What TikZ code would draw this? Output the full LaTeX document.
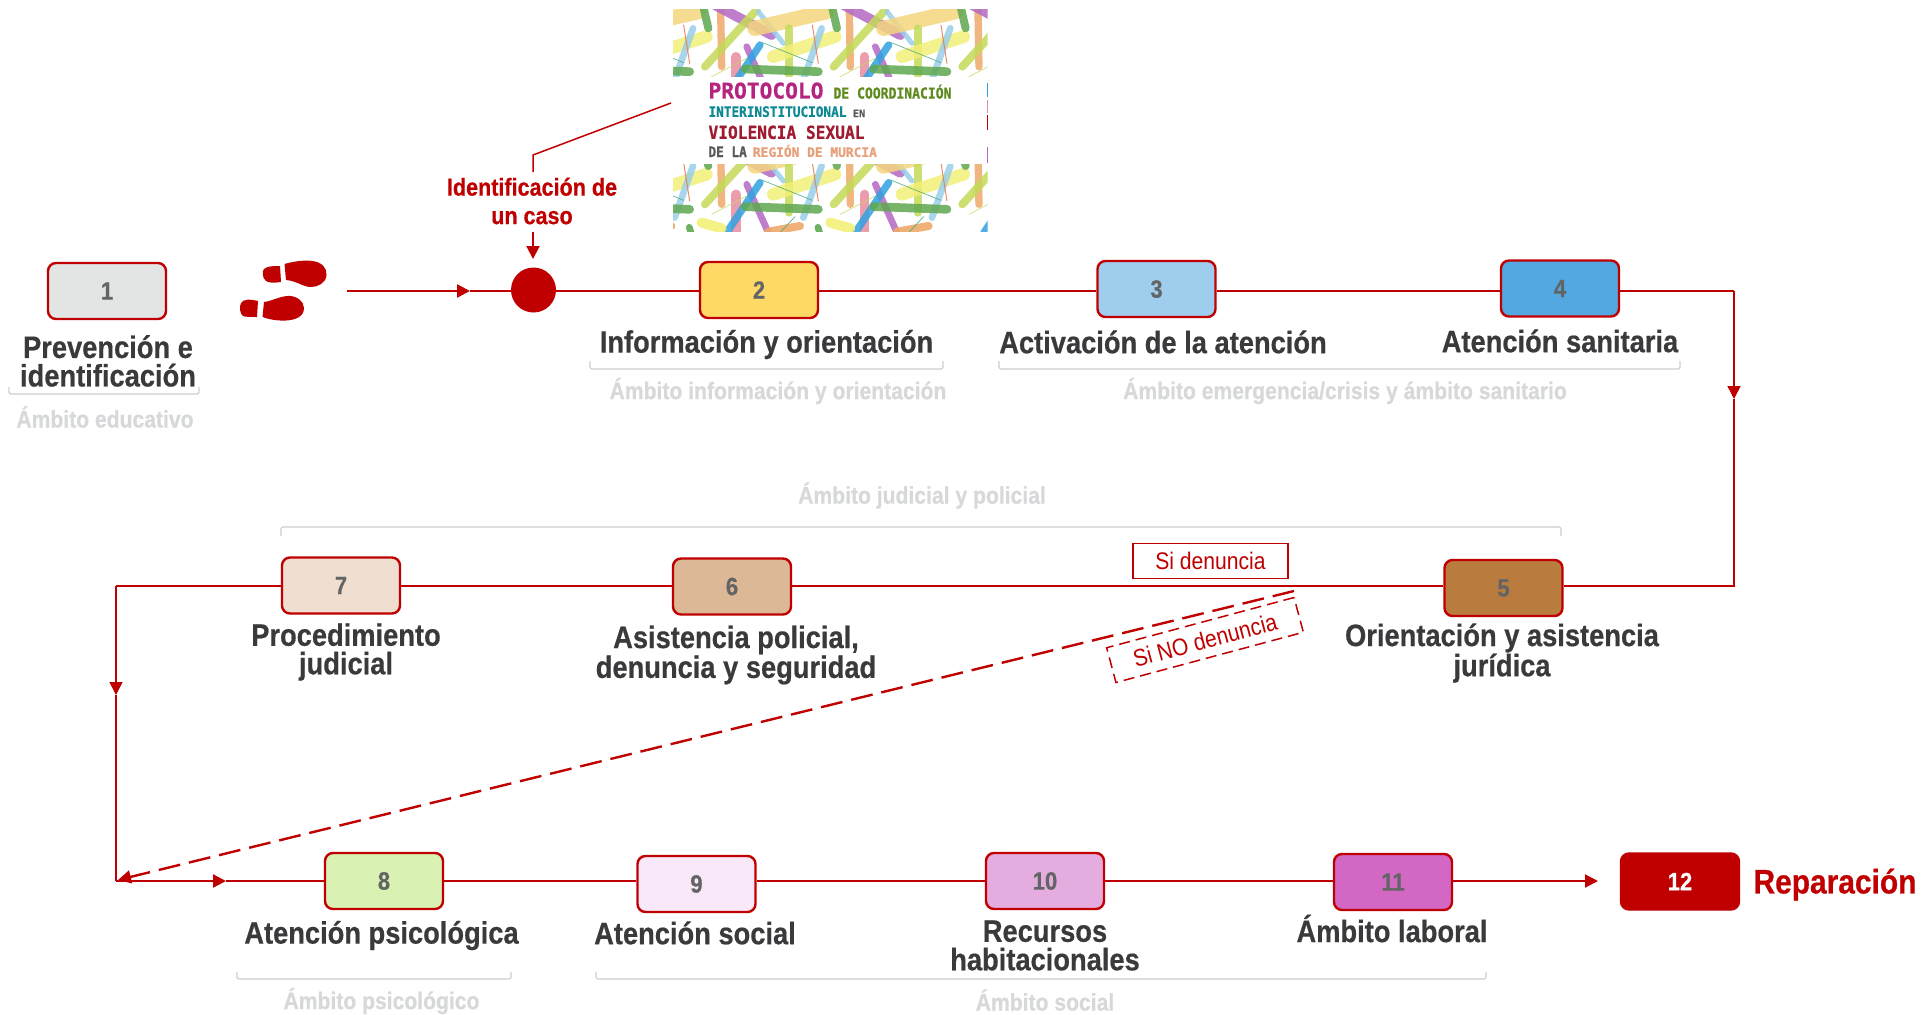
\documentclass[tikz,border=0pt]{standalone}
\usepackage{fontspec}
\usepackage{graphicx}
\setmainfont[FakeStretch=0.88,BoldFeatures={FakeBold=0.5}]{Liberation Sans}
\newfontfamily\bannerfont[BoldFeatures={FakeBold=0.8}]{DejaVu Sans Mono}
\usetikzlibrary{arrows.meta}
\definecolor{rj}{HTML}{C00000}
\definecolor{tx}{HTML}{3A3A3C}
\definecolor{numc}{HTML}{636466}
\definecolor{amb}{HTML}{D7D8DA}
\definecolor{brk}{HTML}{CFCFD1}
\definecolor{cOrange}{HTML}{EFA96A}
\definecolor{cGreen}{HTML}{5FA850}
\definecolor{cPurple}{HTML}{B468C4}
\definecolor{cLime}{HTML}{C4DA58}
\definecolor{cLblue}{HTML}{9ACFEA}
\definecolor{cYor}{HTML}{F5D67E}
\definecolor{cYel}{HTML}{F3F078}
\definecolor{cSalm}{HTML}{E87850}
\definecolor{cPink}{HTML}{E88CA0}
\definecolor{cBlue}{HTML}{2FA2E0}
\definecolor{cThin}{HTML}{40A878}
\definecolor{bMag}{HTML}{B5257F}
\definecolor{bOli}{HTML}{5E8A1E}
\definecolor{bTeal}{HTML}{0E8A94}
\definecolor{bGray}{HTML}{58595B}
\definecolor{bRed}{HTML}{9E1B32}
\definecolor{bSal}{HTML}{E8A07A}
\tikzset{
  numbox/.style={draw=rj,line width=2.4pt,rounded corners=8pt,minimum width=118pt,minimum height=56pt,inner sep=0pt,
    font=\fontsize{25}{25}\selectfont\bfseries,text=numc},
  lab/.style={font=\fontsize{31}{28.5}\selectfont\bfseries,text=tx,align=center,inner sep=0pt},
  ambito/.style={font=\fontsize{24}{24}\selectfont\bfseries,text=amb,align=center,inner sep=0pt},
  redlab/.style={font=\fontsize{24.5}{28.5}\selectfont\bfseries,text=rj,align=center,inner sep=0pt},
  flow/.style={draw=rj,line width=1.5pt},
  flowb/.style={draw=rj,line width=2.4pt},
  tip/.style={-{Triangle[length=13pt,width=13pt]}},
  brack/.style={draw=brk,line width=1.3pt,rounded corners=1.5pt},
  note/.style={font=\fontsize{24}{24}\selectfont,text=rj,inner sep=0pt},
}
\newcommand{\bt}[6]{\node[anchor=south west,inner sep=0pt,text=#5] at (#1,#2) {\resizebox{#3pt}{#4pt}{\bannerfont\bfseries #6}};}
\newcommand{\tilesticks}{%
  \foreach \dx in {-386,0,386,772} {
    \foreach \xa/\ya/\xb/\yb/\w/\c in {
      242/30/245/200/22/cOrange,
      190/20/205/85/24/cGreen,
      225/15/395/105/30/cPurple,
      350/30/195/200/24/cLime,
      355/35/430/130/15/cLblue,
      345/85/560/35/46/cYor,
      447/85/447/225/24/cLime,
      400/170/585/110/38/cYel,
      545/85/490/240/20/cLblue,
      517/75/535/190/3/cSalm,
      288/170/288/290/28/cPink,
      320/140/385/285/20/cPurple,
      360/135/260/285/22/cBlue,
      315/207/535/215/26/cGreen,
      368/128/517/188/2/cThin,
      215/230/320/175/2/cLime} {
      \draw[draw=\c,line width=\w*0.3333pt,line cap=round,opacity=.85] (\xa+\dx,\ya)--(\xb+\dx,\yb);
    }
  }
}
\begin{document}
\begin{tikzpicture}[x=1pt,y=-1pt]
\useasboundingbox (0,0) rectangle (1923,1015);
\fill[white] (0,0) rectangle (1923,1015);

% banner
\node[minimum width=315pt,minimum height=223pt,inner sep=0pt] (banner) at (830.5,120.5) {};
\begin{scope}[shift={(640,0)},x=.3333pt,y=-.3333pt]
  \begin{scope}
    \clip (99,27) rectangle (1043,230);
    \tilesticks
  \end{scope}
  \begin{scope}
    \clip (99,495) rectangle (1043,695);
    \begin{scope}[shift={(0,413)}]
      \tilesticks
    \end{scope}
    \foreach \dx in {-386,0,386} {
      \foreach \xa/\ya/\xb/\yb/\w/\c in {
        185/668/245/685/30/cYel,
        385/695/480/678/24/cOrange,
        148/682/155/705/20/cGreen,
        420/698/465/650/2/cThin} {
        \draw[draw=\c,line width=\w*0.3333pt,line cap=round,opacity=.9] (\xa+\dx,\ya)--(\xb+\dx,\yb);
      }
    }
  \end{scope}
  \foreach \ya/\yb/\c in {250/290/cBlue,300/340/cPink,345/390/rj,440/490/cPurple}
    \draw[draw=\c,line width=.8pt] (1042,\ya)--(1042,\yb);
\end{scope}
\bt{708.3}{99}{115}{16}{bMag}{PROTOCOLO}
\bt{833.3}{99}{118}{14}{bOli}{DE COORDINACIÓN}
\bt{708.3}{117.3}{138}{10.7}{bTeal}{INTERINSTITUCIONAL}
\bt{852.7}{117.3}{12.3}{7.5}{bGray}{EN}
\bt{708.3}{139.3}{156}{13.3}{bRed}{VIOLENCIA SEXUAL}
\bt{708.3}{157.3}{38.3}{10.7}{bGray}{DE LA}
\bt{752.7}{157.3}{124}{12}{bSal}{REGIÓN DE MURCIA}

% numbered boxes
\node[numbox,fill={rgb,255:red,227;green,228;blue,228}] (b1) at (107,291) {1};
\node[numbox,fill={rgb,255:red,255;green,217;blue,102}] (b2) at (759,290) {2};
\node[numbox,fill={rgb,255:red,159;green,205;blue,238}] (b3) at (1156.5,289) {3};
\node[numbox,fill={rgb,255:red,84;green,168;blue,226}] (b4) at (1560,288.5) {4};
\node[numbox,fill={rgb,255:red,185;green,124;blue,62}] (b5) at (1503.5,588) {5};
\node[numbox,fill={rgb,255:red,221;green,184;blue,150}] (b6) at (732,586.5) {6};
\node[numbox,fill={rgb,255:red,240;green,223;blue,208}] (b7) at (341,585.5) {7};
\node[numbox,fill={rgb,255:red,217;green,242;blue,180}] (b8) at (384,881) {8};
\node[numbox,fill={rgb,255:red,248;green,232;blue,248}] (b9) at (696.5,884) {9};
\node[numbox,fill={rgb,255:red,229;green,172;blue,223}] (b10) at (1045,881) {10};
\node[numbox,fill={rgb,255:red,210;green,104;blue,196}] (b11) at (1393,882) {11};
\node[numbox,fill=rj,text=white] (b12) at (1680,881.5) {12};

% circle
\node[circle,fill=rj,minimum size=45pt,inner sep=0pt] (dot) at (533.5,290) {};

% titles
\node[lab] (t1) at (108,361) {Prevención e\\identificación};
\node[lab] (t2) at (766.5,344.5) {Información y orientación};
\node[lab] (t3) at (1163,342) {Activación de la atención};
\node[lab] (t4) at (1560,341) {Atención sanitaria};
\node[lab] (t5) at (1502,653) {Orientación y asistencia\\jurídica};
\node[lab] (t6) at (736,655) {Asistencia policial,\\denuncia y seguridad};
\node[lab] (t7) at (346,652) {Procedimiento\\judicial};
\node[lab] (t8) at (381.5,935.5) {Atención psicológica};
\node[lab] (t9) at (695,933) {Atención social};
\node[lab] (t10) at (1045,945.5) {Recursos\\habitacionales};
\node[lab] (t11) at (1392,928.5) {Ámbito laboral};
\node[font=\fontsize{34}{34}\selectfont\bfseries,text=rj,inner sep=0pt] (t12) at (1835,884.5) {Reparación};
\node[redlab] (caso) at (532,201) {Identificación de\\un caso};

% ambitos
\node[ambito] (a1) at (105,417) {Ámbito educativo};
\node[ambito] (a2) at (778,391) {Ámbito información y orientación};
\node[ambito] (a3) at (1345,391) {Ámbito emergencia/crisis y ámbito sanitario};
\node[ambito] (a4) at (922,495.5) {Ámbito judicial y policial};
\node[ambito] (a5) at (381.5,1001) {Ámbito psicológico};
\node[ambito] (a6) at (1045,1000) {Ámbito social};

% brackets
\draw[brack] (9,387)--(9,394)--(199,394)--(199,387);
\draw[brack] (590,361)--(590,369)--(943,369)--(943,361);
\draw[brack] (999,361)--(999,369)--(1680,369)--(1680,361);
\draw[brack] (281,536)--(281,527)--(1561,527)--(1561,536);
\draw[brack] (237,972)--(237,979)--(511,979)--(511,972);
\draw[brack] (596,972)--(596,979)--(1486,979)--(1486,972);

% notes
\node[note,draw=rj,line width=1.5pt,minimum width=155pt,minimum height=35pt] (si) at (1210.5,561) {Si denuncia};
\node[note,draw=rj,line width=1.5pt,dashed,dash pattern=on 11pt off 6pt,minimum width=194pt,minimum height=36pt,rotate=15] (sino) at (1205,640) {Si NO denuncia};

% free ends
\coordinate (stepstart) at (347,291);
\coordinate (stepthick) at (360,291);
\coordinate (steptip) at (470,291);
\coordinate (linkstart) at (671,103);
\coordinate (linkbend) at (533,155);
\coordinate (linkend) at (533,172);
\coordinate (casostart) at (533,232);
\coordinate (casotip) at (533,259);
\coordinate (r1) at (1734,291);
\coordinate (r1tip) at (1734,399);
\coordinate (r2) at (1734,586);
\coordinate (l1) at (116,586);
\coordinate (l1tip) at (116,695);
\coordinate (l2) at (116,881);
\coordinate (l2tip) at (226,881);
\coordinate (endtip) at (1598,881);
\coordinate (dstart) at (1294,591);
\coordinate (dend) at (118,880);

% connectors
\draw[flow] (stepstart)--(stepthick);
\draw[flowb,tip] (stepthick)--(steptip);
\draw[flow] (steptip)--(dot.west|-steptip);
\draw[flow] (linkstart)--(linkbend)--(linkend);
\draw[flowb,tip,line width=2pt] (casostart)--(casotip);
\draw[flow] (dot.east|-r1)--(b2.west|-r1);
\draw[flow] (b2.east|-r1)--(b3.west|-r1);
\draw[flow] (b3.east|-r1)--(b4.west|-r1);
\draw[flow] (b4.east|-r1)--(r1);
\draw[flow,tip] (r1)--(r1tip);
\draw[flow] (r1tip)--(r2)--(b5.east|-r2);
\draw[flow] (b5.west|-r2)--(b6.east|-r2);
\draw[flow] (b6.west|-r2)--(b7.east|-r2);
\draw[flow] (b7.west|-r2)--(l1);
\draw[flow,tip] (l1)--(l1tip);
\draw[flow] (l1tip)--(l2);
\draw[flowb,tip] (l2)--(l2tip);
\draw[flowb] (l2tip)--(b8.west|-l2tip);
\draw[flowb] (b8.east)--(b9.west|-b8.east);
\draw[flowb] (b9.east|-b8.east)--(b10.west);
\draw[flowb] (b10.east)--(b11.west|-b10.east);
\draw[flowb,tip,line width=2pt] (b11.east|-b10.east)--(endtip);
\draw[flowb,dashed,dash pattern=on 22pt off 9pt,tip] (dstart)--(dend);

% footprints
\fill[rj] (284.5,264) .. controls (295,261) and (305,260) .. (312,261) .. controls (322,262) and (327,268) .. (326.5,275) .. controls (326,283) and (318,287) .. (311,287) .. controls (303,287) and (297,281) .. (286,280) -- cycle;
\fill[rj] (280,266) -- (281,282) .. controls (274,283) and (269,283) .. (266,281) .. controls (262,278) and (262,271) .. (264,269) .. controls (267,266) and (274,266) .. (280,266) -- cycle;
\fill[rj] (264,302) .. controls (272,301) and (278,297) .. (287,296) .. controls (297,295) and (304,302) .. (304,308) .. controls (304,317) and (295,320) .. (286,320.5) .. controls (276,321) and (268,319) .. (262.5,317) -- cycle;
\fill[rj] (258,301) -- (257,317) .. controls (250,317) and (245,317) .. (243,316) .. controls (240,314) and (239,307) .. (241,303) .. controls (243,299) and (250,299) .. (258,301) -- cycle;
\end{tikzpicture}
\end{document}
